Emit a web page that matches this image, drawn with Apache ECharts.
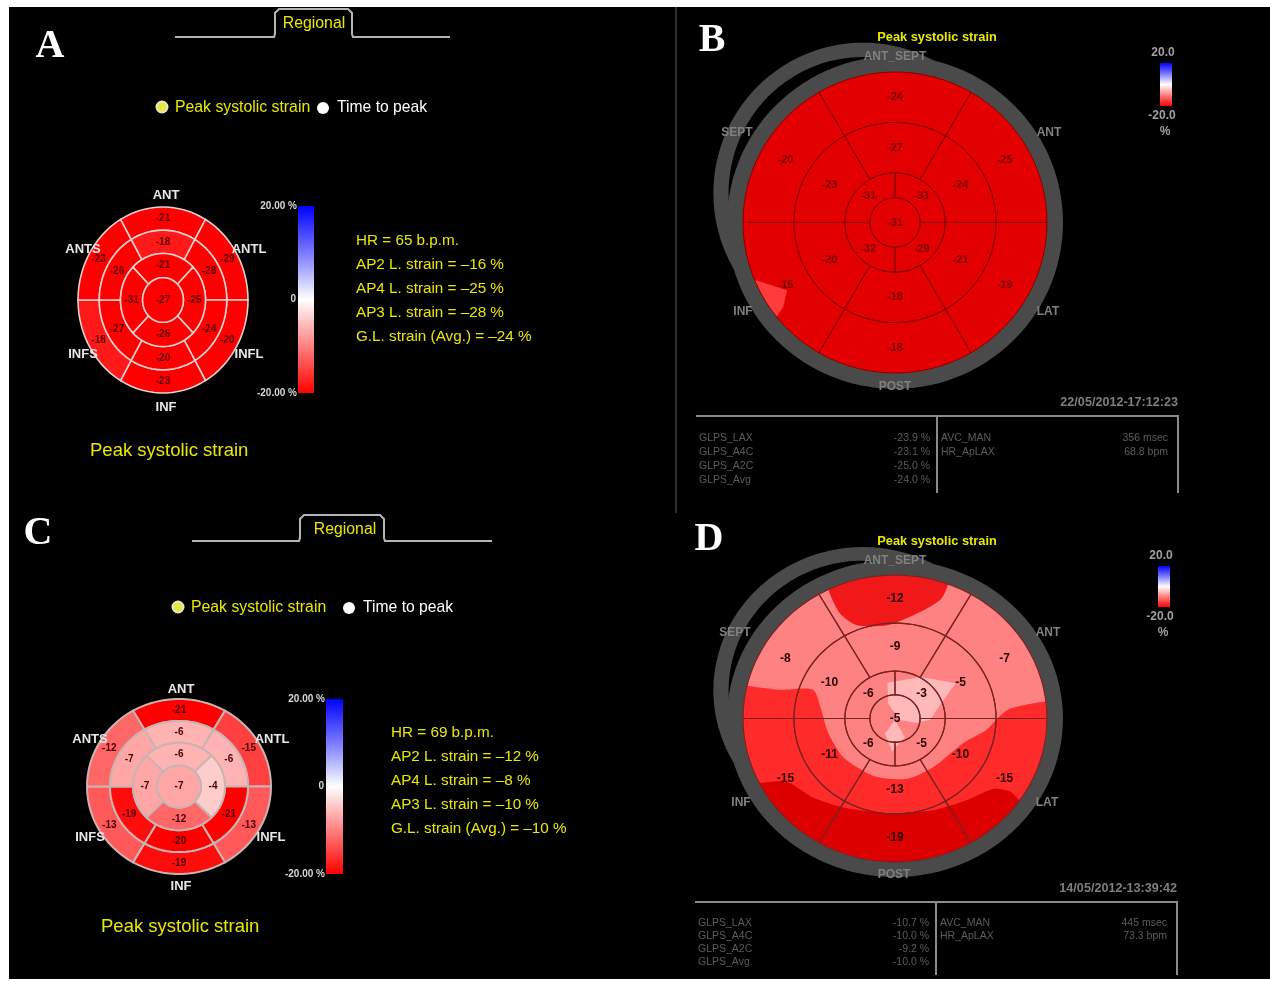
<!DOCTYPE html>
<html>
<head>
<meta charset="utf-8">
<title>Peak systolic strain</title>
<script src="https://cdn.jsdelivr.net/npm/echarts@6/dist/echarts.min.js"></script>
<style>
  html, body { margin: 0; padding: 0; background: #fff; }
  #chart { width: 1270px; height: 981px; }
</style>
</head>
<body>
<div id="chart"></div>
<script>
// segment values, ring order: top, upper right, lower right, bottom, lower left, upper left
const aOuter = [-21, -29, -20, -23, -18, -23];
const aMid = [-18, -28, -24, -20, -27, -26];
const aInner = [-21, -25, -26, -31]; // top, right, bottom, left
const aApex = [-27];

const cOuter = [-21, -15, -13, -19, -13, -12];
const cMid = [-6, -6, -21, -20, -19, -7];
const cInner = [-6, -4, -12, -7];
const cApex = [-7];

const bOuter = [-24, -25, -19, -18, -15, -20];
const bMid = [-27, -24, -21, -18, -20, -23];
const bInner = [-31, -29, -32, -31]; // upper right, lower right, lower left, upper left
const bApex = [-31];

const dOuter = [-12, -7, -15, -19, -15, -8];
const dMid = [-9, -5, -10, -13, -11, -10];
const dInner = [-3, -5, -6, -6];
const dApex = [-5];

// text
const statsA = ['HR = 65 b.p.m.', 'AP2 L. strain = –16 %', 'AP4 L. strain = –25 %', 'AP3 L. strain = –28 %', 'G.L. strain (Avg.) = –24 %'];
const statsC = ['HR = 69 b.p.m.', 'AP2 L. strain = –12 %', 'AP4 L. strain = –8 %', 'AP3 L. strain = –10 %', 'G.L. strain (Avg.) = –10 %'];
const glpsNames = ['GLPS_LAX', 'GLPS_A4C', 'GLPS_A2C', 'GLPS_Avg'];
const glpsB = ['-23.9 %', '-23.1 %', '-25.0 %', '-24.0 %'];
const glpsD = ['-10.7 %', '-10.0 %', '-9.2 %', '-10.0 %'];
const avcNames = ['AVC_MAN', 'HR_ApLAX'];
const avcB = ['356 msec', '68.8 bpm'];
const avcD = ['445 msec', '73.3 bpm'];

// contour bands of the strain maps, in disc units (x right, y up)
const bPatch = [[-1.0, -0.36], [-0.91, -0.385], [-0.71, -0.45], [-0.735, -0.56], [-0.78, -0.63], [-1.0, -0.7]];
const dBandLower = [[-1.2, 0.23], [-1.0, 0.23], [-0.76, 0.2], [-0.54, 0.2], [-0.485, 0.06], [-0.44, -0.1], [-0.34, -0.27], [-0.14, -0.4], [0.08, -0.42], [0.25, -0.34], [0.45, -0.17], [0.6, -0.08], [0.74, 0.06], [1.0, 0.12], [1.2, 0.12], [1.2, -1.2], [-1.2, -1.2]];
const dBandTop = [[-0.44, 1.1], [-0.44, 0.91], [-0.36, 0.73], [-0.25, 0.65], [-0.05, 0.65], [0.14, 0.73], [0.3, 0.83], [0.35, 0.94], [0.35, 1.1]];
const dBandBottom = [[-1.2, -0.45], [-0.91, -0.45], [-0.71, -0.44], [-0.54, -0.55], [-0.34, -0.62], [-0.05, -0.66], [0.25, -0.64], [0.47, -0.57], [0.65, -0.49], [0.76, -0.51], [0.83, -0.58], [1.2, -0.8], [1.2, -1.2], [-1.2, -1.2]];
const dCoreUpper = [[-0.05, 0.25], [0.01, 0.26], [0.17, 0.29], [0.4, 0.245], [0.32, 0.13], [0.23, -0.01], [0.14, -0.03], [0.03, -0.01], [-0.045, 0.105]];
const dCoreLower = [[0, -0.01], [0.065, -0.13], [-0.02, -0.23], [-0.065, -0.105]];

const discRadiiAha = [1, 0.75, 0.5, 0.24];
const discRadiiEcho = [1, 0.665, 0.33, 0.165];

// strain value to colour, white at 0 and red at -20
function strainColor(v) {
  const t = Math.min(1, Math.abs(v) / 20);
  const g = Math.round(255 * (1 - t));
  return `rgb(255,${g},${g})`;
}

function sectorPts(r0, r1, a0, a1) {
  const n = Math.max(4, Math.ceil((a1 - a0) / 4));
  const pts = [];
  for (let i = 0; i <= n; i++) {
    const a = (a0 + (a1 - a0) * i / n) * Math.PI / 180;
    pts.push([r1 * Math.cos(a), r1 * Math.sin(a)]);
  }
  if (r0 > 0) {
    for (let i = n; i >= 0; i--) {
      const a = (a0 + (a1 - a0) * i / n) * Math.PI / 180;
      pts.push([r0 * Math.cos(a), r0 * Math.sin(a)]);
    }
  }
  return pts;
}

function ellipsePts(cx, cy, rx, ry) {
  const pts = [];
  for (let i = 0; i < 120; i++) {
    const a = i * 3 * Math.PI / 180;
    pts.push([cx + rx * Math.cos(a), cy + ry * Math.sin(a)]);
  }
  return pts;
}

// one row per segment: label x, label y, r0, r1, start angle, end angle, value
function segmentRows(outer, mid, inner, apex, radii, innerFirst) {
  const rows = [];
  const ring = (vals, r0, r1, first, step) => {
    vals.forEach((v, k) => {
      const mid = first - step * k;
      const rm = (r0 + r1) / 2;
      const a = mid * Math.PI / 180;
      rows.push([rm * Math.cos(a), rm * Math.sin(a), r0, r1, mid - step / 2, mid + step / 2, v]);
    });
  };
  ring(outer, radii[1], radii[0], 90, 60);
  ring(mid, radii[2], radii[1], 90, 60);
  ring(inner, radii[3], radii[2], innerFirst, 90);
  rows.push([0, 0, 0, radii[3], 0, 360, apex[0]]);
  return rows;
}

function segmentSeries(idx, rows, look) {
  return {
    type: 'custom',
    coordinateSystem: 'cartesian2d',
    xAxisIndex: idx,
    yAxisIndex: idx,
    silent: true,
    animation: false,
    data: rows,
    renderItem: (params, api) => {
      const pts = sectorPts(api.value(2), api.value(3), api.value(4), api.value(5)).map(p => api.coord(p));
      const lab = api.coord([api.value(0), api.value(1)]);
      const v = api.value(6);
      return {
        type: 'group',
        children: [{
          type: 'polygon',
          shape: { points: pts },
          style: { fill: look.fill ? strainColor(v) : 'rgba(0,0,0,0)', stroke: look.stroke, lineWidth: look.lineWidth }
        }, {
          type: 'text',
          z2: 5,
          style: {
            text: String(v), x: lab[0], y: lab[1], fill: look.text, font: look.font,
            textAlign: 'center', textVerticalAlign: 'middle', align: 'center', verticalAlign: 'middle'
          }
        }]
      };
    }
  };
}

// filled regions in disc units, optionally clipped to the disc
function regionSeries(idx, regions) {
  return {
    type: 'custom',
    coordinateSystem: 'cartesian2d',
    xAxisIndex: idx,
    yAxisIndex: idx,
    silent: true,
    animation: false,
    data: regions.map(r => [r.pts[0][0], r.pts[0][1]]),
    renderItem: (params, api) => {
      const r = regions[params.dataIndex];
      const el = {
        type: 'polygon',
        shape: { points: r.pts.map(p => api.coord(p)), smooth: r.smooth || 0 },
        style: { fill: r.color }
      };
      if (r.clip) {
        el.clipPath = { type: 'polygon', shape: { points: ellipsePts(0, 0, 1, 1).map(p => api.coord(p)) } };
      }
      return el;
    }
  };
}

const GRAY = '#4a4a4a';
function heartShell(base) {
  return [
    { pts: ellipsePts(-0.21, 0.195, 0.985, 1.0), color: GRAY },
    { pts: ellipsePts(-0.21, 0.195, 0.885, 0.905), color: '#000' },
    { pts: ellipsePts(0, 0, 1.105, 1.105), color: GRAY },
    { pts: ellipsePts(0, 0, 1, 1), color: base }
  ];
}

const discGrids = [
  { left: 78, top: 207, width: 170, height: 186 },
  { left: 743, top: 72, width: 304, height: 301 },
  { left: 87, top: 699, width: 184, height: 175 },
  { left: 743, top: 575, width: 304, height: 287 }
];

const series = [
  segmentSeries(0, segmentRows(aOuter, aMid, aInner, aApex, discRadiiAha, 90),
    { fill: true, stroke: '#e4d0d0', lineWidth: 1.6, text: '#5a0000', font: 'bold 10px "Liberation Sans"' }),
  regionSeries(1, heartShell('#e20000').concat([
    { pts: bPatch, color: '#ff3b3b', clip: true }
  ])),
  segmentSeries(1, segmentRows(bOuter, bMid, bInner, bApex, discRadiiEcho, 45),
    { fill: false, stroke: '#8a0000', lineWidth: 1, text: '#7a0000', font: 'bold 11px "Liberation Sans"' }),
  segmentSeries(2, segmentRows(cOuter, cMid, cInner, cApex, discRadiiAha, 90),
    { fill: true, stroke: '#c9b4b4', lineWidth: 2, text: '#4a0000', font: 'bold 10px "Liberation Sans"' }),
  regionSeries(3, heartShell('#ff8282').concat([
    { pts: dBandLower, color: '#ff2b2b', clip: true, smooth: 0.25 },
    { pts: dBandTop, color: '#f01818', clip: true, smooth: 0.25 },
    { pts: dBandBottom, color: '#dd0000', clip: true, smooth: 0.2 },
    { pts: dCoreUpper, color: '#ffb9b9' },
    { pts: dCoreLower, color: '#ffb9b9' }
  ])),
  segmentSeries(3, segmentRows(dOuter, dMid, dInner, dApex, discRadiiEcho, 45),
    { fill: false, stroke: '#7a2222', lineWidth: 1.2, text: '#2a0000', font: 'bold 12px "Liberation Sans"' })
];

// ---- texts and frame ----
const YELLOW = '#e8e800';
const elements = [];

function txt(text, x, y, fill, font, align) {
  elements.push({
    type: 'text', z: 20, silent: true,
    style: {
      text, x, y, fill, font,
      textAlign: align || 'left', align: align || 'left',
      textVerticalAlign: 'middle', verticalAlign: 'middle'
    }
  });
}
function line(pts, stroke, width) {
  elements.push({
    type: 'polyline', z: 15, silent: true,
    shape: { points: pts },
    style: { stroke, lineWidth: width, fill: null }
  });
}
function dot(x, y, r, fill, stroke) {
  elements.push({
    type: 'circle', z: 15, silent: true,
    shape: { cx: x, cy: y, r },
    style: { fill, stroke: stroke || null, lineWidth: 2 }
  });
}
function colorBar(x, y, w, h) {
  elements.push({
    type: 'rect', z: 15, silent: true,
    shape: { x, y, width: w, height: h },
    style: {
      fill: {
        type: 'linear', x: 0, y: 0, x2: 0, y2: 1,
        colorStops: [
          { offset: 0, color: '#0000ff' },
          { offset: 0.25, color: '#7a7aff' },
          { offset: 0.5, color: '#ffffff' },
          { offset: 0.75, color: '#ff8080' },
          { offset: 1, color: '#ff0000' }
        ]
      }
    }
  });
}

elements.push({ type: 'rect', z: -5, silent: true, shape: { x: 9, y: 7, width: 1261, height: 972 }, style: { fill: '#000' } });
line([[676, 7], [676, 513]], '#5a5a5a', 1);

// panel letters
const letterFont = 'bold 40px "Liberation Serif"';
txt('A', 50, 47, '#fff', letterFont, 'center');
txt('B', 712, 41, '#fff', letterFont, 'center');
txt('C', 38, 534, '#fff', letterFont, 'center');
txt('D', 709, 540, '#fff', letterFont, 'center');

// left hand panels, the tab, the radio row, labels, colour bar and stats
function leftPanel(o) {
  const y0 = o.tabY, y1 = o.tabTop;
  line([[o.tab[0], y0], [o.tab[1] - 1, y0], [o.tab[1], y0 - 3], [o.tab[1], y1 + 4], [o.tab[1] + 4, y1], [o.tab[2] - 4, y1], [o.tab[2], y1 + 4], [o.tab[2], y0 - 3], [o.tab[2] + 1, y0], [o.tab[3], y0]], '#b5b5b5', 2);
  txt('Regional', o.tabTextX, o.tabTextY, YELLOW, '15.8px "Liberation Sans"', 'center');
  dot(o.radio[0], o.radio[2], 5.5, '#e6e640', '#e8e8c8');
  txt('Peak systolic strain', o.radio[0] + 13, o.radio[2] + 1, YELLOW, '15.8px "Liberation Sans"');
  dot(o.radio[1], o.radio[2] + 1, 6, '#fff');
  txt('Time to peak', o.radio[1] + 14, o.radio[2] + 1, '#fff', '15.7px "Liberation Sans"');
  o.labels.forEach(l => txt(l[0], l[1], l[2], '#e8e8e8', 'bold 13px "Liberation Sans"', 'center'));
  colorBar(o.bar[0], o.bar[1], o.bar[2], o.bar[3]);
  const small = 'bold 10px "Liberation Sans"';
  txt('20.00 %', o.bar[0] - 1, o.bar[1], '#d8d8d8', small, 'right');
  txt('0', o.bar[0] - 2, o.bar[1] + o.bar[3] / 2, '#d8d8d8', small, 'right');
  txt('-20.00 %', o.bar[0] - 1, o.bar[1] + o.bar[3], '#d8d8d8', small, 'right');
  o.stats.forEach((s, i) => txt(s, o.statX, o.statY + 24 * i, YELLOW, '15.25px "Liberation Sans"'));
  txt('Peak systolic strain', o.caption[0], o.caption[1], YELLOW, '18.5px "Liberation Sans"');
}

leftPanel({
  tab: [175, 275, 352, 450], tabY: 37, tabTop: 9, tabTextX: 314, tabTextY: 24,
  radio: [162, 323, 107],
  labels: [['ANT', 166, 195], ['ANTS', 83, 249], ['ANTL', 249, 249], ['INFS', 83, 354], ['INFL', 249, 354], ['INF', 166, 407]],
  bar: [298, 206, 16, 187],
  stats: statsA, statX: 356, statY: 241,
  caption: [90, 451]
});
leftPanel({
  tab: [192, 300, 384, 492], tabY: 541, tabTop: 515, tabTextX: 345, tabTextY: 530,
  radio: [178, 349, 607],
  labels: [['ANT', 181, 689], ['ANTS', 90, 739], ['ANTL', 272, 739], ['INFS', 90, 837], ['INFL', 271, 837], ['INF', 181, 886]],
  bar: [326, 699, 17, 175],
  stats: statsC, statX: 391, statY: 733,
  caption: [101, 927]
});

// right hand panels, the echo software report
function echoPanel(o) {
  const gray = '#808080';
  const bold = 'bold 12px "Liberation Sans"';
  txt('Peak systolic strain', 937, o.titleY, YELLOW, 'bold 12.8px "Liberation Sans"', 'center');
  o.labels.forEach(l => txt(l[0], l[1], l[2], gray, bold, 'center'));
  colorBar(o.bar[0], o.bar[1], 12, o.bar[2]);
  txt('20.0', o.bar[0] + 3, o.bar[1] - 10, '#a0a0a0', bold, 'center');
  txt('-20.0', o.bar[0] + 2, o.bar[1] + o.bar[2] + 10, '#a0a0a0', bold, 'center');
  txt('%', o.bar[0] + 5, o.bar[1] + o.bar[2] + 26, '#a0a0a0', bold, 'center');
  txt(o.stamp, o.right, o.lineY - 13, '#7e7e7e', 'bold 12.6px "Liberation Sans"', 'right');
  line([[o.left, o.lineY], [o.right, o.lineY], [o.right, o.lineY + o.drop]], '#8a8a8a', 2);
  line([[o.mid, o.lineY], [o.mid, o.lineY + o.drop]], '#8a8a8a', 2);
  const small = '10.5px "Liberation Sans"';
  glpsNames.forEach((n, i) => {
    txt(n, o.left + 3, o.rowY + o.rowH * i, '#5c5c5c', small);
    txt(o.glps[i], o.mid - 7, o.rowY + o.rowH * i, '#5c5c5c', small, 'right');
  });
  avcNames.forEach((n, i) => {
    txt(n, o.mid + 4, o.rowY + o.rowH * i, '#5c5c5c', small);
    txt(o.avc[i], o.mid + 231, o.rowY + o.rowH * i, '#5c5c5c', small, 'right');
  });
}

echoPanel({
  titleY: 37,
  labels: [['ANT_SEPT', 895, 57], ['SEPT', 737, 133], ['ANT', 1049, 133], ['INF', 743, 312], ['LAT', 1048, 312], ['POST', 895, 387]],
  bar: [1160, 63, 43],
  stamp: '22/05/2012-17:12:23', left: 696, mid: 937, right: 1178, lineY: 416, drop: 77,
  rowY: 438, rowH: 14, glps: glpsB, avc: avcB
});
echoPanel({
  titleY: 541,
  labels: [['ANT_SEPT', 895, 561], ['SEPT', 735, 633], ['ANT', 1048, 633], ['INF', 741, 803], ['LAT', 1047, 803], ['POST', 894, 875]],
  bar: [1158, 566, 41],
  stamp: '14/05/2012-13:39:42', left: 695, mid: 936, right: 1177, lineY: 902, drop: 73,
  rowY: 923, rowH: 13, glps: glpsD, avc: avcD
});

const option = {
  backgroundColor: '#fff',
  animation: false,
  grid: discGrids,
  xAxis: discGrids.map((g, i) => ({ type: 'value', gridIndex: i, min: -1, max: 1, show: false })),
  yAxis: discGrids.map((g, i) => ({ type: 'value', gridIndex: i, min: -1, max: 1, show: false })),
  graphic: { elements },
  series
};

const myChart = echarts.init(document.getElementById('chart'));
myChart.setOption(option);
</script>
</body>
</html>
